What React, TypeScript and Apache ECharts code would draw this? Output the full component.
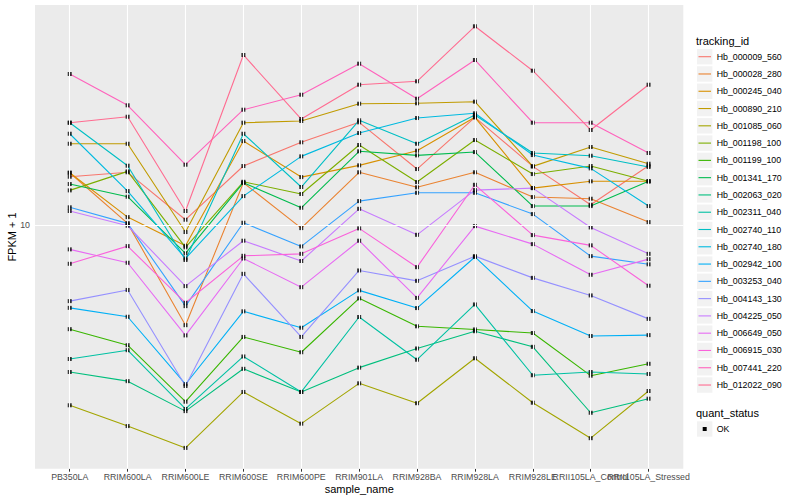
import React, { useEffect, useRef } from "react";
import * as echarts from "echarts";

const categories = [
  "PB350LA", "RRIM600LA", "RRIM600LE", "RRIM600SE", "RRIM600PE", "RRIM901LA",
  "RRIM928BA", "RRIM928LA", "RRIM928LE", "RRII105LA_Control", "RRII105LA_Stressed",
];

const trackingIds = [
  "Hb_000009_560", "Hb_000028_280", "Hb_000245_040", "Hb_000890_210", "Hb_001085_060",
  "Hb_001198_100", "Hb_001199_100", "Hb_001341_170", "Hb_002063_020", "Hb_002311_040",
  "Hb_002740_110", "Hb_002740_180", "Hb_002942_100", "Hb_003253_040", "Hb_004143_130",
  "Hb_004225_050", "Hb_006649_050", "Hb_006915_030", "Hb_007441_220", "Hb_012022_090",
];

const lineColors = [
  "#F8766D", "#EA8331", "#D89000", "#C09B00", "#A3A500", "#7CAE00", "#39B600", "#00BB4E",
  "#00BF7D", "#00C1A3", "#00BFC4", "#00BAE0", "#00B0F6", "#35A2FF", "#9590FF", "#C77CFF",
  "#E76BF3", "#FA62DB", "#FF62BC", "#FF6C91",
];

// FPKM + 1 per sample, in the order of `categories`
const hb_000009_560 = [14.49, 14.99, 10.42, 15.73, 18.87, 21.99, 15.37, 22.86, 15.69, 11.69, 15.77];
const hb_000028_280 = [14.94, 10.13, 4.64, 13.84, 9.77, 14.99, 13.36, 14.99, 12.4, 12.24, 10.23];
const hb_000245_040 = [14.94, 10.63, 8.53, 19.05, 14.45, 15.81, 17.69, 22.86, 13.28, 13.99, 13.99];
const hb_000890_210 = [18.66, 18.66, 9.48, 21.93, 22.22, 25.37, 25.45, 25.77, 15.69, 18.2, 16.01];
const hb_001085_060 = [2.51, 2.14, 1.81, 2.78, 2.18, 2.97, 2.55, 3.6, 2.56, 1.95, 2.8];
const hb_001198_100 = [13.05, 15.1, 8.43, 13.94, 12.69, 18.48, 13.91, 19.2, 14.79, 15.73, 13.99];
const hb_001199_100 = [4.5, 3.98, 2.58, 4.24, 3.77, 5.7, 4.6, 4.49, 4.37, 3.15, 3.45];
const hb_001341_170 = [13.7, 12.43, 8.05, 13.84, 11.42, 17.61, 17.07, 17.51, 11.57, 11.57, 13.99];
const hb_002063_020 = [3.24, 3.02, 2.4, 3.32, 2.78, 3.35, 3.88, 4.43, 3.93, 2.37, 2.64];
const hb_002311_040 = [3.58, 3.83, 2.44, 3.65, 2.78, 4.94, 3.56, 5.44, 3.16, 3.24, 3.19];
const hb_002740_110 = [21.93, 15.77, 7.65, 20.15, 13.39, 22.34, 18.66, 23.26, 17.38, 17.02, 15.61];
const hb_002740_180 = [20.15, 12.98, 7.74, 12.49, 16.94, 20.26, 22.73, 23.57, 17.11, 15.45, 11.57];
const hb_002942_100 = [5.3, 4.95, 2.95, 5.16, 4.55, 6.06, 5.29, 7.83, 5.17, 4.27, 4.3];
const hb_003253_040 = [11.46, 10.13, 5.37, 10.18, 8.49, 12.02, 12.81, 12.81, 10.88, 7.88, 7.4];
const hb_004143_130 = [5.58, 6.08, 2.91, 6.88, 4.24, 7.06, 6.52, 7.88, 6.67, 5.83, 4.87];
const hb_004225_050 = [11.14, 9.95, 6.26, 8.87, 7.59, 11.33, 9.28, 13.08, 13.28, 9.82, 8.02];
const hb_006649_050 = [8.3, 7.49, 4.29, 7.74, 6.21, 8.87, 5.72, 9.92, 8.64, 6.83, 7.7];
const hb_006915_030 = [7.43, 8.51, 5.51, 7.9, 8.02, 9.75, 7.24, 13.62, 9.26, 8.56, 6.28];
const hb_007441_220 = [31.86, 25.06, 15.89, 24.23, 27.18, 34.49, 26.36, 35.48, 21.93, 21.93, 17.38];
const hb_012022_090 = [21.93, 22.96, 11.14, 36.87, 22.56, 29.35, 30.13, 45.95, 32.68, 20.74, 29.35];

const seriesValues = [
  hb_000009_560, hb_000028_280, hb_000245_040, hb_000890_210, hb_001085_060,
  hb_001198_100, hb_001199_100, hb_001341_170, hb_002063_020, hb_002311_040,
  hb_002740_110, hb_002740_180, hb_002942_100, hb_003253_040, hb_004143_130,
  hb_004225_050, hb_006649_050, hb_006915_030, hb_007441_220, hb_012022_090,
];

const yTicks = [10];
const yMin = 1.543;
const yMax = 54.1;

const FONT = '"Liberation Sans", Arial, Helvetica, sans-serif';

export default function App() {
  const ref = useRef<HTMLDivElement>(null);

  useEffect(() => {
    if (!ref.current) return;
    const chart = echarts.init(ref.current, undefined, { renderer: "svg" });
    const catIdx = categories.map((_, i) => i);
    const evenIdx = catIdx.filter((i) => i % 2 === 0);
    const oddIdx = catIdx.filter((i) => i % 2 === 1);

    const lineSeries = seriesValues.map((vals, s) => ({
      type: "line",
      name: trackingIds[s],
      xAxisIndex: 0,
      data: vals.map((v, i) => [i, v]),
      showSymbol: false,
      symbol: "none",
      silent: true,
      z: 2,
      lineStyle: { color: lineColors[s], width: 1.1 },
      itemStyle: { color: lineColors[s] },
    }));

    const points: number[][] = [];
    seriesValues.forEach((vals) => vals.forEach((v, i) => points.push([i, v])));

    const graphics: any[] = [];
    const legX = 697;
    const legY0 = 56.7;
    const legStep = 17.28;
    const txt = (text: string, x: number, y: number, size: number, align: string) => ({
      type: "text", x, y,
      style: { text, fill: "#000", fontSize: size, fontFamily: FONT, align, verticalAlign: "middle", textAlign: align, textVerticalAlign: "middle" },
    });
    graphics.push(txt("tracking_id", 696, 40.7, 11, "left"));
    trackingIds.forEach((id, i) => {
      const cy = legY0 + legStep * i;
      graphics.push({ type: "rect", shape: { x: legX, y: cy - 7.7, width: 15.4, height: 15.4 }, style: { fill: "#F2F2F2" } });
      graphics.push({ type: "line", shape: { x1: legX + 1.5, y1: cy, x2: legX + 14, y2: cy }, style: { stroke: lineColors[i], lineWidth: 1.1 } });
      graphics.push(txt(id, 716.7, cy, 8.8, "left"));
    });
    graphics.push(txt("quant_status", 696, 412.7, 11, "left"));
    const okY = 429;
    graphics.push({ type: "rect", shape: { x: legX, y: okY - 7.7, width: 15.4, height: 15.4 }, style: { fill: "#F2F2F2" } });
    graphics.push({ type: "rect", shape: { x: legX + 5.7, y: okY - 2, width: 4, height: 4 }, style: { fill: "#000" } });
    graphics.push(txt("OK", 716.7, okY, 8.8, "left"));
    graphics.push(txt("sample_name", 359.2, 488.5, 11, "center"));
    const yTitle: any = txt("FPKM + 1", 11.7, 237, 11, "center");
    yTitle.rotation = Math.PI / 2;
    graphics.push(yTitle);

    const catFormatter = (v: number) => {
      const r = Math.round(v);
      return Math.abs(v - r) < 1e-6 && r >= 0 && r < categories.length ? categories[r] : "";
    };
    const makeXAxis = (labelValues: number[], showTicks: boolean) => ({
      type: "value", min: -0.6, max: 10.6, gridIndex: 0, position: "bottom", offset: 0,
      axisLine: { show: false },
      splitLine: { show: false },
      axisTick: { show: showTicks, length: 3, lineStyle: { color: "#333333", width: 1 }, customValues: catIdx },
      axisLabel: {
        customValues: labelValues, hideOverlap: false, showMinLabel: true, showMaxLabel: true, margin: 4,
        color: "#4D4D4D", fontSize: 8.8, fontFamily: FONT,
        formatter: catFormatter,
      },
    });

    const option: any = {
      animation: false,
      grid: {
        left: 35, top: 5, width: 648.3, height: 463.7,
        show: true, backgroundColor: "#EBEBEB", borderWidth: 0,
        containLabel: false, outerBoundsMode: "none",
      },
      xAxis: [makeXAxis(evenIdx, true), makeXAxis(oddIdx, false)],
      yAxis: {
        type: "log", logBase: 10, min: yMin, max: yMax,
        axisLine: { show: false },
        splitLine: { show: false },
        axisTick: { show: true, length: 3, lineStyle: { color: "#333333", width: 1 }, customValues: yTicks },
        axisLabel: {
          customValues: yTicks, margin: 5, color: "#4D4D4D", fontSize: 8.8, fontFamily: FONT,
          formatter: (v: number) => (yTicks.some((t) => Math.abs(v - t) < 1e-6) ? String(Math.round(v)) : ""),
        },
      },
      series: [
        {
          type: "line", name: "__grid", data: [], silent: true, z: 1, xAxisIndex: 0,
          markLine: {
            silent: true, symbol: ["none", "none"], label: { show: false }, animation: false,
            lineStyle: { color: "#FFFFFF", width: 1.1, type: "solid" },
            emphasis: { disabled: true },
            data: [...catIdx.map((i) => ({ xAxis: i })), ...yTicks.map((t) => ({ yAxis: t }))],
          },
        },
        ...lineSeries,
        {
          type: "scatter", name: "points", xAxisIndex: 0, data: points, symbol: "rect", symbolSize: 4,
          itemStyle: { color: "#000000" }, silent: true, z: 3,
        },
      ],
      graphic: { elements: graphics },
    };
    chart.setOption(option);
    return () => chart.dispose();
  }, []);

  return (
    <div
      ref={ref}
      style={{ position: "absolute", left: 0, top: 0, width: 800, height: 500, background: "#FFFFFF" }}
    />
  );
}
